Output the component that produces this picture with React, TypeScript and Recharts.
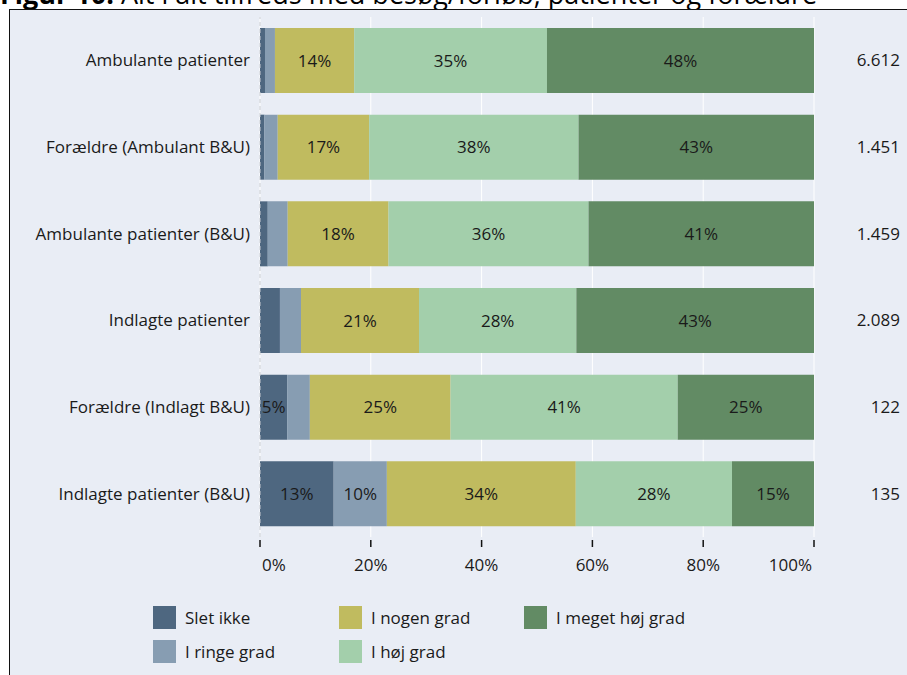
import React from 'react'
import { BarChart, Bar, XAxis, YAxis, CartesianGrid, LabelList, ReferenceLine } from 'recharts'

const categories = [
  'Ambulante patienter',
  'Forældre (Ambulant B&U)',
  'Ambulante patienter (B&U)',
  'Indlagte patienter',
  'Forældre (Indlagt B&U)',
  'Indlagte patienter (B&U)'
]
const counts = ['6.612', '1.451', '1.459', '2.089', '122', '135']

const sletIkke = [0.9, 0.8, 1.4, 3.6, 4.9, 13.3]
const ringeGrad = [1.8, 2.4, 3.6, 3.8, 4.1, 9.6]
const nogenGrad = [14.3, 16.5, 18.2, 21.3, 25.4, 34.1]
const hojGrad = [34.8, 37.8, 36.1, 28.4, 41.0, 28.2]
const megetHojGrad = [48.2, 42.5, 40.7, 42.9, 24.6, 14.8]

const xTicks = [0, 20, 40, 60, 80, 100]

const series = [
  { key: 'slet', name: 'Slet ikke', color: '#4e6780', values: sletIkke },
  { key: 'ringe', name: 'I ringe grad', color: '#879db2', values: ringeGrad },
  { key: 'nogen', name: 'I nogen grad', color: '#c0bb5f', values: nogenGrad },
  { key: 'hoj', name: 'I høj grad', color: '#a3cfab', values: hojGrad },
  { key: 'meget', name: 'I meget høj grad', color: '#628b64', values: megetHojGrad }
]

const data = categories.map((name, i) => {
  const row: Record<string, string | number> = { name, n: counts[i] }
  series.forEach((s) => {
    row[s.key] = s.values[i]
  })
  return row
})

const FONT = '"Open Sans", sans-serif'
const TEXT = '#1a1a1a'
const FS = 17

function XTick(props: any) {
  const { x, y, payload } = props
  const v = payload.value
  const anchor = v === 0 ? 'start' : v === 100 ? 'end' : 'middle'
  const tx = v === 0 ? x + 2 : v === 100 ? x - 2 : x
  return (
    <g>
      <line x1={x} x2={x} y1={y + 3} y2={y + 10} stroke="#111" strokeWidth={1.5} />
      <text x={tx} y={y + 34} textAnchor={anchor} fill={TEXT} fontSize={FS} fontFamily={FONT}>
        {`${v}%`}
      </text>
    </g>
  )
}

function RightTick(props: any) {
  const { y, payload } = props
  return (
    <text x={900} y={y} dy={6} textAnchor="end" fill={TEXT} fontSize={FS} fontFamily={FONT}>
      {payload.value}
    </text>
  )
}

const pct = (v: any) => (Math.round(Number(v)) >= 5 ? `${Math.round(Number(v))}%` : '')

export default function App() {
  return (
    <div style={{ position: 'relative', width: 907, height: 675, overflow: 'hidden', background: '#fff' }}>
      <style>{'body{margin:0}'}</style>
      <div
        style={{
          position: 'absolute',
          left: 0,
          top: -20,
          fontSize: 27,
          lineHeight: 1,
          fontFamily: FONT,
          whiteSpace: 'nowrap',
          color: '#000'
        }}
      >
        <b>Figur 10:</b> Alt i alt tilfreds med besøg/forløb, patienter og forældre
      </div>
      <div
        style={{
          position: 'absolute',
          left: 9,
          top: 9,
          width: 920,
          height: 700,
          border: '1.5px solid #111',
          background: '#e9edf5'
        }}
      />
      <div style={{ position: 'absolute', left: 0, top: 0 }}>
        <BarChart
          width={907}
          height={600}
          data={data}
          layout="vertical"
          margin={{ top: 17, right: 0, bottom: 23, left: 10 }}
          barSize={65}
        >
          <CartesianGrid horizontal={false} vertical stroke="#ffffff" strokeWidth={1} />
          <ReferenceLine x={0} yAxisId="left" stroke="#c8ccd2" strokeDasharray="4 3" />
          <XAxis
            type="number"
            domain={[0, 100]}
            ticks={xTicks}
            axisLine={false}
            tickLine={false}
            tickSize={0}
            tickMargin={0}
            height={40}
            tick={<XTick />}
            interval={0}
          />
          <YAxis
            yAxisId="left"
            type="category"
            dataKey="name"
            width={250}
            axisLine={false}
            tickLine={false}
            tickSize={0}
            tickMargin={10}
            interval={0}
            tick={{ fill: TEXT, fontSize: FS, fontFamily: FONT }}
          />
          <YAxis
            yAxisId="right"
            orientation="right"
            type="category"
            dataKey="n"
            width={93}
            axisLine={false}
            tickLine={false}
            interval={0}
            tick={<RightTick />}
          />
          {series.map((s) => (
            <Bar
              key={s.key}
              dataKey={s.key}
              name={s.name}
              stackId="a"
              yAxisId="left"
              fill={s.color}
              isAnimationActive={false}
            >
              <LabelList
                dataKey={s.key}
                position="center"
                formatter={pct}
                fill={TEXT}
                fontSize={FS}
                fontFamily={FONT}
              />
            </Bar>
          ))}
        </BarChart>
      </div>
      <div style={{ position: 'absolute', left: 0, top: 0, fontFamily: FONT, fontSize: FS, color: TEXT }}>
        {series.map((s, i) => {
          const col = Math.floor(i / 2)
          const row = i % 2
          const left = [153, 339, 524][col]
          const top = 606 + row * 34
          return (
            <div key={s.key} style={{ position: 'absolute', left, top, display: 'flex', alignItems: 'center', whiteSpace: 'nowrap' }}>
              <div style={{ width: 23, height: 23, background: s.color }} />
              <span style={{ marginLeft: 9 }}>{s.name}</span>
            </div>
          )
        })}
      </div>
    </div>
  )
}
